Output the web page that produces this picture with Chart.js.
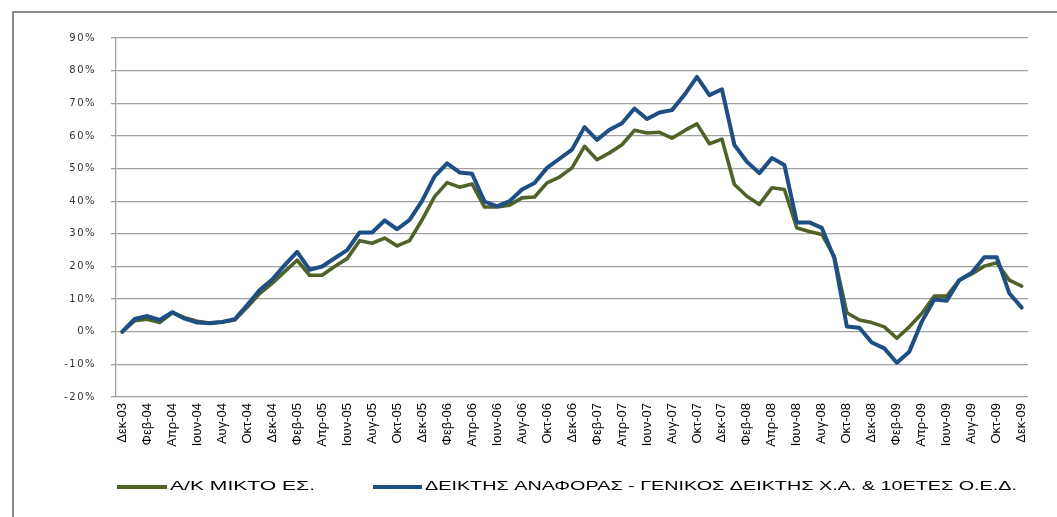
<!DOCTYPE html>
<html><head><meta charset="utf-8">
<script src="https://cdn.jsdelivr.net/npm/chart.js@4.4.1/dist/chart.umd.min.js"></script>
<style>html,body{margin:0;padding:0;background:#fff;overflow:hidden}canvas{display:block}</style>
</head><body>
<canvas id="c" width="1057" height="517"></canvas>
<script>
const categories = [
 'Δεκ-03','Ιαν-04','Φεβ-04','Μαρ-04','Απρ-04','Μαϊ-04','Ιουν-04','Ιουλ-04','Αυγ-04','Σεπ-04','Οκτ-04','Νοε-04',
 'Δεκ-04','Ιαν-05','Φεβ-05','Μαρ-05','Απρ-05','Μαϊ-05','Ιουν-05','Ιουλ-05','Αυγ-05','Σεπ-05','Οκτ-05','Νοε-05',
 'Δεκ-05','Ιαν-06','Φεβ-06','Μαρ-06','Απρ-06','Μαϊ-06','Ιουν-06','Ιουλ-06','Αυγ-06','Σεπ-06','Οκτ-06','Νοε-06',
 'Δεκ-06','Ιαν-07','Φεβ-07','Μαρ-07','Απρ-07','Μαϊ-07','Ιουν-07','Ιουλ-07','Αυγ-07','Σεπ-07','Οκτ-07','Νοε-07',
 'Δεκ-07','Ιαν-08','Φεβ-08','Μαρ-08','Απρ-08','Μαϊ-08','Ιουν-08','Ιουλ-08','Αυγ-08','Σεπ-08','Οκτ-08','Νοε-08',
 'Δεκ-08','Ιαν-09','Φεβ-09','Μαρ-09','Απρ-09','Μαϊ-09','Ιουν-09','Ιουλ-09','Αυγ-09','Σεπ-09','Οκτ-09','Νοε-09',
 'Δεκ-09'
];
// Α/Κ ΜΙΚΤΟ ΕΣ. (cumulative return, %)
const seriesFund = [
 0, 3.4, 3.8, 2.8, 5.8, 4.3, 3.2, 2.7, 3.0, 3.6, 7.5, 11.7,
 14.8, 18.4, 21.9, 17.3, 17.3, 20.0, 22.4, 27.9, 27.1, 28.7, 26.3, 27.9,
 34.3, 41.4, 45.7, 44.3, 45.3, 38.2, 38.2, 38.8, 41.0, 41.3, 45.6, 47.4,
 50.2, 56.8, 52.7, 54.8, 57.3, 61.7, 60.9, 61.1, 59.3, 61.6, 63.7, 57.6,
 59.0, 45.1, 41.5, 39.0, 44.1, 43.6, 31.8, 30.7, 29.8, 23.0, 5.8, 3.6,
 2.8, 1.5, -2.0, 1.5, 5.6, 10.9, 10.9, 15.8, 17.7, 20.1, 21.1, 15.8,
 14.0
];
// ΔΕΙΚΤΗΣ ΑΝΑΦΟΡΑΣ (cumulative return, %)
const seriesBenchmark = [
 0, 3.9, 4.8, 3.6, 6.0, 4.0, 2.8, 2.6, 3.0, 3.8, 8.2, 12.8,
 16.0, 20.4, 24.5, 19.0, 20.0, 22.5, 25.0, 30.4, 30.4, 34.1, 31.4, 34.3,
 40.1, 47.6, 51.6, 48.8, 48.4, 39.9, 38.4, 40.0, 43.6, 45.6, 50.2, 53.0,
 55.8, 62.7, 58.8, 61.9, 63.9, 68.4, 65.2, 67.2, 67.9, 72.6, 78.1, 72.5,
 74.3, 57.2, 52.1, 48.6, 53.2, 51.1, 33.5, 33.5, 31.8, 22.5, 1.6, 1.2,
 -3.3, -5.1, -9.5, -6.1, 3.1, 9.9, 9.5, 15.8, 18.1, 22.8, 22.8, 11.8,
 7.4
];
const seriesNames = ['Α/Κ ΜΙΚΤΟ ΕΣ.', 'ΔΕΙΚΤΗΣ ΑΝΑΦΟΡΑΣ - ΓΕΝΙΚΟΣ ΔΕΙΚΤΗΣ Χ.Α. & 10ΕΤΕΣ Ο.Ε.Δ.'];
const yMin = -20, yMax = 90, yStep = 10;

const COLORS = ['#4F6228', '#1F4E85'];

const framePlugin = {
  id: 'frame',
  beforeDraw(chart) {
    const ctx = chart.ctx;
    ctx.save();
    ctx.fillStyle = '#fff';
    ctx.fillRect(0, 0, chart.width, chart.height);
    ctx.strokeStyle = '#8a8a8a';
    ctx.lineWidth = 2;
    ctx.beginPath();
    ctx.moveTo(13, chart.height);
    ctx.lineTo(13, 12);
    ctx.lineTo(chart.width, 12);
    ctx.stroke();
    ctx.restore();
  },
  afterDraw(chart) {
    const ctx = chart.ctx;
    const items = [
      {x0: 117, x1: 167, tx: 170, tw: 145},
      {x0: 373, x1: 422, tx: 425, tw: 592}
    ];
    const y = 487;
    chart.data.datasets.forEach((ds, i) => {
      const it = items[i];
      ctx.save();
      ctx.strokeStyle = ds.borderColor;
      ctx.lineWidth = 4;
      ctx.beginPath();
      ctx.moveTo(it.x0, y);
      ctx.lineTo(it.x1, y);
      ctx.stroke();
      ctx.font = '13px "Liberation Sans", Arial, sans-serif';
      ctx.fillStyle = '#000';
      ctx.textBaseline = 'middle';
      ctx.textAlign = 'left';
      const w = ctx.measureText(ds.label).width;
      ctx.translate(it.tx, y - 1);
      ctx.scale(it.tw / w, 1);
      ctx.fillText(ds.label, 0, 0);
      ctx.restore();
    });
  }
};

new Chart(document.getElementById('c'), {
  type: 'line',
  data: {
    labels: categories,
    datasets: [
      {label: seriesNames[0], data: seriesFund, borderColor: COLORS[0], backgroundColor: COLORS[0],
       borderWidth: 3.6, pointRadius: 0, tension: 0, order: 2, borderJoinStyle: 'round', borderCapStyle: 'round', fill: false},
      {label: seriesNames[1], data: seriesBenchmark, borderColor: COLORS[1], backgroundColor: COLORS[1],
       borderWidth: 4, pointRadius: 0, tension: 0, order: 1, borderJoinStyle: 'round', borderCapStyle: 'round', fill: false}
    ]
  },
  options: {
    responsive: false,
    animation: false,
    devicePixelRatio: 1,
    layout: {padding: {top: 38, right: 29, bottom: 0, left: 0}},
    plugins: {legend: {display: false}, tooltip: {enabled: false}},
    scales: {
      x: {
        type: 'category',
        offset: true,
        grid: {display: false, drawTicks: false},
        border: {display: false},
        ticks: {
          autoSkip: false, maxRotation: 90, minRotation: 90, padding: 6,
          color: '#000',
          font: {family: '"Liberation Sans Narrow", "Liberation Sans", Arial, sans-serif', size: 13},
          callback(v, i) { return i % 2 === 0 ? this.getLabelForValue(v) : ''; }
        },
        afterFit(s) { s.height = 120; }
      },
      y: {
        min: yMin, max: yMax,
        ticks: {
          stepSize: yStep, padding: 15, color: '#333',
          font: {family: '"DejaVu Sans", Verdana, sans-serif', size: 10},
          callback: v => v + '%'
        },
        grid: {color: '#a0a0a0', lineWidth: 1.3, tickLength: 5, drawTicks: true},
        border: {display: true, color: '#a0a0a0', width: 1.3},
        afterFit(s) { s.width = 116; },
        afterUpdate(s) {
          if (!s._lsPatched) {
            const orig = s.drawLabels.bind(s);
            s.drawLabels = function (a) {
              const c = this.ctx; c.save(); c.letterSpacing = '1.5px'; orig(a); c.restore();
            };
            s._lsPatched = true;
          }
        }
      }
    }
  },
  plugins: [framePlugin]
});
</script>
</body></html>
